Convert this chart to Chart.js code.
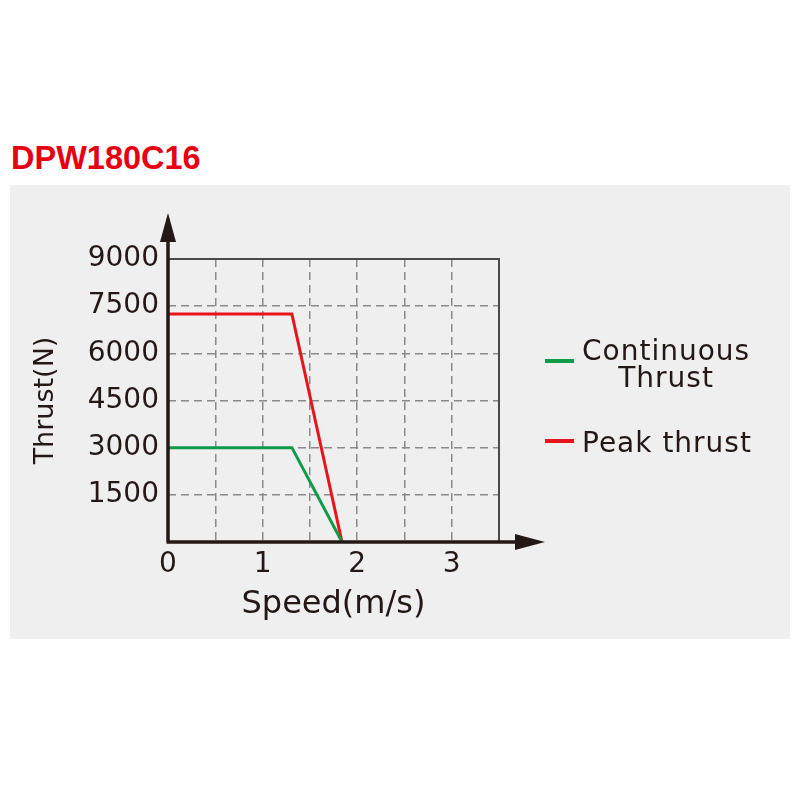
<!DOCTYPE html>
<html>
<head>
<meta charset="utf-8">
<script src="https://cdn.jsdelivr.net/npm/chart.js@4/dist/chart.umd.min.js"></script>
<style>
  html, body { margin: 0; padding: 0; background: #fff; }
  #page { position: relative; width: 800px; height: 789px; overflow: hidden; }
  #title { position: absolute; left: 11px; top: 142px; font: bold 32.5px "Liberation Sans", Arial, sans-serif; line-height: 32px; color: #e60012; }
  #panel { position: absolute; left: 10px; top: 185px; width: 780px; height: 454px; background: #efefef; }
  #chart { position: absolute; left: 0; top: 0; }
  .lg-text { position: absolute; left: 582px; font: 28px "DejaVu Sans", sans-serif; line-height: 27px; letter-spacing: 1px; color: #231815; text-align: center; white-space: nowrap; }
  .lg-line { position: absolute; left: 545px; width: 29px; height: 4px; }
</style>
</head>
<body>
<div id="page">
  <div id="title">DPW180C16</div>
  <div id="panel"></div>
  <canvas id="chart" width="800" height="789"></canvas>
  <div id="legend"></div>
</div>
<script>
// speed (m/s) at the corners of each curve
const speedPts = [0, 1.31, 1.84];
const peakThrust = [7250, 7250, 0];
const contThrust = [3000, 3000, 0];
const seriesNames = ["Continuous\nThrust", "Peak thrust"];
const seriesColors = ["#0e9b48", "#e8141c"];
const xMax = 3.5;
const yMax = 9000;
const yStep = 1500;

const ink = "#231815";
const gridColor = "#8a8a8a";

function toPoints(xs, ys) {
  return xs.map((x, i) => ({ x, y: ys[i] }));
}

// frame on top/right, thick axes with arrow heads on left/bottom
const axesPlugin = {
  id: "axesArrows",
  afterDatasetsDraw(chart) {
    const { ctx, chartArea: a } = chart;
    ctx.save();
    ctx.strokeStyle = "#4a4a4a";
    ctx.lineWidth = 2;
    ctx.beginPath();
    ctx.moveTo(a.left, a.top);
    ctx.lineTo(a.right, a.top);
    ctx.lineTo(a.right, a.bottom);
    ctx.stroke();

    ctx.strokeStyle = ink;
    ctx.fillStyle = ink;
    ctx.lineWidth = 3.5;
    ctx.beginPath();
    ctx.moveTo(a.left, a.bottom);
    ctx.lineTo(a.left, a.top - 40);
    ctx.moveTo(a.left - 1.5, a.bottom);
    ctx.lineTo(a.right + 30, a.bottom);
    ctx.stroke();

    // y arrow
    ctx.beginPath();
    ctx.moveTo(a.left, a.top - 46);
    ctx.lineTo(a.left - 8, a.top - 17);
    ctx.lineTo(a.left + 8, a.top - 17);
    ctx.closePath();
    ctx.fill();
    // x arrow
    ctx.beginPath();
    ctx.moveTo(a.right + 46, a.bottom);
    ctx.lineTo(a.right + 16, a.bottom - 8);
    ctx.lineTo(a.right + 16, a.bottom + 8);
    ctx.closePath();
    ctx.fill();
    ctx.restore();
  },
};

new Chart(document.getElementById("chart"), {
  type: "line",
  data: {
    datasets: [
      {
        label: seriesNames[0],
        data: toPoints(speedPts, contThrust),
        borderColor: seriesColors[0],
        borderWidth: 3,
        pointRadius: 0,
        tension: 0,
      },
      {
        label: seriesNames[1],
        data: toPoints(speedPts, peakThrust),
        borderColor: seriesColors[1],
        borderWidth: 3,
        pointRadius: 0,
        tension: 0,
      },
    ],
  },
  options: {
    responsive: false,
    animation: false,
    layout: { padding: { left: 26, right: 301, top: 259, bottom: 161 } },
    plugins: { legend: { display: false }, tooltip: { enabled: false } },
    scales: {
      x: {
        type: "linear",
        min: 0,
        max: xMax,
        afterFit: (s) => { s.height = 86; },
        border: { display: false, dash: [8, 5] },
        grid: {
          drawTicks: false,
          lineWidth: 1.5,
          color: (c) => (c.tick && (c.tick.value === 0 || c.tick.value === xMax) ? "transparent" : gridColor),
        },
        ticks: {
          stepSize: 0.5,
          autoSkip: false,
          maxRotation: 0,
          padding: 6,
          color: ink,
          font: { family: "DejaVu Sans", size: 28 },
          callback: (v) => (Number.isInteger(v) && v < xMax ? String(v) : ""),
        },
        title: {
          display: true,
          text: "Speed(m/s)",
          color: ink,
          font: { family: "DejaVu Sans", size: 32 },
        },
      },
      y: {
        min: 0,
        max: yMax,
        afterFit: (s) => { s.width = 142; },
        border: { display: false, dash: [8, 5] },
        grid: {
          drawTicks: false,
          lineWidth: 1.5,
          color: (c) => (c.tick && (c.tick.value === 0 || c.tick.value === yMax) ? "transparent" : gridColor),
        },
        ticks: {
          stepSize: yStep,
          padding: 9,
          color: ink,
          font: { family: "DejaVu Sans", size: 28 },
          callback: (v) => (v === 0 ? "" : String(v)),
        },
        title: {
          display: true,
          text: "Thrust(N)",
          color: ink,
          font: { family: "DejaVu Sans", size: 27 },
        },
      },
    },
  },
  plugins: [axesPlugin],
});

// legend: short coloured line + (possibly two-line) label
const legendTops = [337, 429];
const swatchYs = [359, 439];
const legend = document.getElementById("legend");
seriesNames.forEach((name, i) => {
  const line = document.createElement("div");
  line.className = "lg-line";
  line.style.top = swatchYs[i] + "px";
  line.style.background = seriesColors[i];
  legend.appendChild(line);

  const txt = document.createElement("div");
  txt.className = "lg-text";
  txt.style.top = legendTops[i] + "px";
  txt.innerHTML = name.split("\n").join("<br>");
  legend.appendChild(txt);
});
</script>
</body>
</html>
